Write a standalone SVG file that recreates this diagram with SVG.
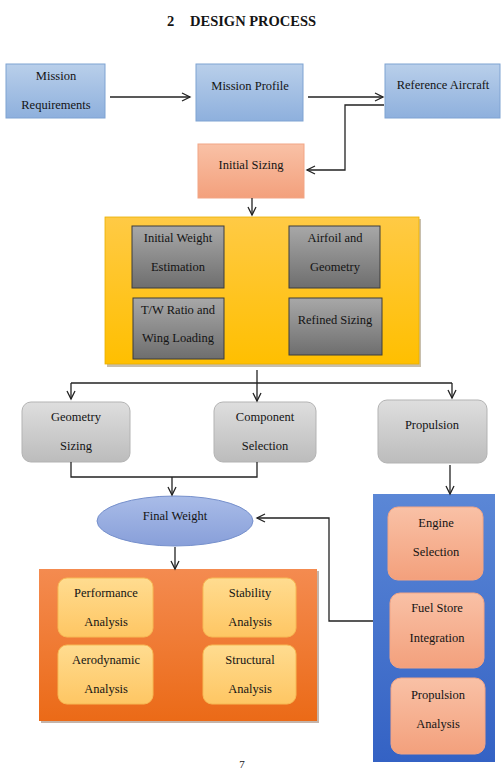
<svg xmlns="http://www.w3.org/2000/svg" width="502" height="774" viewBox="0 0 502 774">
<defs>
<linearGradient id="gBlue" x1="0" y1="0" x2="0" y2="1"><stop offset="0" stop-color="#b9cfea"/><stop offset="1" stop-color="#8eb0dd"/></linearGradient>
<linearGradient id="gSalmon" x1="0" y1="0" x2="0" y2="1"><stop offset="0" stop-color="#f9c1a6"/><stop offset="1" stop-color="#f3a07c"/></linearGradient>
<linearGradient id="gYellow" x1="0" y1="0" x2="0" y2="1"><stop offset="0" stop-color="#ffca45"/><stop offset="1" stop-color="#ffbf00"/></linearGradient>
<linearGradient id="gGrey" x1="0" y1="0" x2="0" y2="1"><stop offset="0" stop-color="#a8a8a8"/><stop offset="1" stop-color="#6e6e6e"/></linearGradient>
<linearGradient id="gLight" x1="0" y1="0" x2="0" y2="1"><stop offset="0" stop-color="#dedede"/><stop offset="1" stop-color="#bcbcbc"/></linearGradient>
<linearGradient id="gEll" x1="0" y1="0" x2="0" y2="1"><stop offset="0" stop-color="#a9bce8"/><stop offset="1" stop-color="#889fd9"/></linearGradient>
<linearGradient id="gOrange" x1="0" y1="0" x2="0" y2="1"><stop offset="0" stop-color="#f48b50"/><stop offset="1" stop-color="#eb6a17"/></linearGradient>
<linearGradient id="gPale" x1="0" y1="0" x2="0" y2="1"><stop offset="0" stop-color="#ffdc90"/><stop offset="1" stop-color="#fec663"/></linearGradient>
<linearGradient id="gRoyal" x1="0" y1="0" x2="0" y2="1"><stop offset="0" stop-color="#5b87d6"/><stop offset="1" stop-color="#3462c4"/></linearGradient>
<marker id="arr" markerUnits="userSpaceOnUse" markerWidth="10" markerHeight="10" refX="8" refY="4" orient="auto" overflow="visible">
<path d="M0,0 L8,4 L0,8" fill="none" stroke="#222" stroke-width="1.3"/>
</marker>
</defs>
<style>
text{font-family:"Liberation Serif","Times New Roman",serif;font-size:12.5px;fill:#141414;text-anchor:middle}
.title{font-size:14.5px;font-weight:bold;text-anchor:start}
.blue{fill:url(#gBlue);stroke:#7fa3d2;stroke-width:1}
.salmon{fill:url(#gSalmon);stroke:#f2a585;stroke-width:1}
.grey{fill:url(#gGrey);stroke:#3c3c3c;stroke-width:1}
.light{fill:url(#gLight);stroke:#b3b3b3;stroke-width:1}
.pale{fill:url(#gPale);stroke:#f7b955;stroke-width:1}
.shadow{fill:#9a8a6a;opacity:0.55}
.conn{fill:none;stroke:#222;stroke-width:1.3}
</style>
<rect width="502" height="774" fill="#ffffff"/>
<text class="title" x="167" y="26">2</text>
<text class="title" x="190" y="26">DESIGN PROCESS</text>

<g id="mission-requirements"><rect class="blue" x="6" y="64" width="99" height="54"/><text x="56" y="80">Mission</text><text x="56" y="109">Requirements</text></g>
<g id="mission-profile"><rect class="blue" x="196" y="64" width="107" height="57"/><text x="250" y="90">Mission Profile</text></g>
<g id="reference-aircraft"><rect class="blue" x="385" y="64" width="115" height="54"/><text x="443" y="89">Reference Aircraft</text></g>
<g id="initial-sizing"><rect class="salmon" x="198" y="144" width="106" height="54"/><text x="251" y="169">Initial Sizing</text></g>

<g id="sizing-group">
<rect class="shadow" x="107" y="219" width="314" height="148"/>
<rect x="105" y="217" width="314" height="147" fill="url(#gYellow)" stroke="#e9b000" stroke-width="0.8"/>
<g id="initial-weight"><rect class="grey" x="132" y="226" width="92" height="62"/><text x="178" y="242">Initial Weight</text><text x="178" y="271">Estimation</text></g>
<g id="airfoil"><rect class="grey" x="289" y="226" width="91" height="62"/><text x="335" y="242">Airfoil and</text><text x="335" y="271">Geometry</text></g>
<g id="tw-ratio"><rect class="grey" x="133" y="298" width="91" height="61"/><text x="178" y="314">T/W Ratio and</text><text x="178" y="342">Wing Loading</text></g>
<g id="refined-sizing"><rect class="grey" x="289" y="298" width="93" height="57"/><text x="335" y="324">Refined Sizing</text></g>
</g>

<g id="geometry-sizing"><rect class="light" x="22" y="402" width="108" height="60" rx="9"/><text x="76" y="421">Geometry</text><text x="76" y="450">Sizing</text></g>
<g id="component-selection"><rect class="light" x="214" y="402" width="102" height="60" rx="9"/><text x="265" y="421">Component</text><text x="265" y="450">Selection</text></g>
<g id="propulsion"><rect class="light" x="378" y="400" width="109" height="63" rx="9"/><text x="432" y="429">Propulsion</text></g>

<g id="final-weight"><ellipse cx="175" cy="521" rx="78" ry="25" fill="url(#gEll)" stroke="#7690cc" stroke-width="1"/><text x="175" y="520">Final Weight</text></g>

<g id="analysis-group">
<rect x="41" y="571" width="278" height="152" fill="#8a6a55" opacity="0.5"/>
<rect x="39" y="569" width="278" height="152" fill="url(#gOrange)"/>
<g id="performance"><rect class="pale" x="58" y="578" width="95" height="59" rx="9"/><text x="106" y="597">Performance</text><text x="106" y="626">Analysis</text></g>
<g id="stability"><rect class="pale" x="203" y="578" width="93" height="59" rx="9"/><text x="250" y="597">Stability</text><text x="250" y="626">Analysis</text></g>
<g id="aerodynamic"><rect class="pale" x="58" y="645" width="95" height="59" rx="9"/><text x="106" y="664">Aerodynamic</text><text x="106" y="693">Analysis</text></g>
<g id="structural"><rect class="pale" x="203" y="645" width="93" height="59" rx="9"/><text x="250" y="664">Structural</text><text x="250" y="693">Analysis</text></g>
</g>

<g id="propulsion-group">
<rect x="373" y="494" width="122" height="268" fill="url(#gRoyal)"/>
<g id="engine-selection"><rect class="salmon" x="388" y="507" width="95" height="73" rx="10"/><text x="436" y="527">Engine</text><text x="436" y="556">Selection</text></g>
<g id="fuel-store"><rect class="salmon" x="390" y="593" width="94" height="75" rx="10"/><text x="437" y="612">Fuel Store</text><text x="437" y="642">Integration</text></g>
<g id="propulsion-analysis"><rect class="salmon" x="391" y="678" width="94" height="76" rx="10"/><text x="438" y="699">Propulsion</text><text x="438" y="728">Analysis</text></g>
</g>

<g id="connectors">
<path class="conn" d="M110,97 H190" marker-end="url(#arr)"/>
<path class="conn" d="M308,97 H383" marker-end="url(#arr)"/>
<path class="conn" d="M384,105 H345 V170 H307" marker-end="url(#arr)"/>
<path class="conn" d="M252,198 V215" marker-end="url(#arr)"/>
<path class="conn" d="M257,370 V401" marker-end="url(#arr)"/>
<path class="conn" d="M71,383 H452"/>
<path class="conn" d="M71,383 V399" marker-end="url(#arr)"/>
<path class="conn" d="M452,383 V398" marker-end="url(#arr)"/>
<path class="conn" d="M71,462 V477 H257 V462"/>
<path class="conn" d="M172,477 V495" marker-end="url(#arr)"/>
<path class="conn" d="M450,465 V494" marker-end="url(#arr)"/>
<path class="conn" d="M175,547 V569" marker-end="url(#arr)"/>
<path class="conn" d="M373,621 H329 V518 H257" marker-end="url(#arr)"/>
</g>

<text x="242" y="768" style="font-size:11px">7</text>
</svg>
